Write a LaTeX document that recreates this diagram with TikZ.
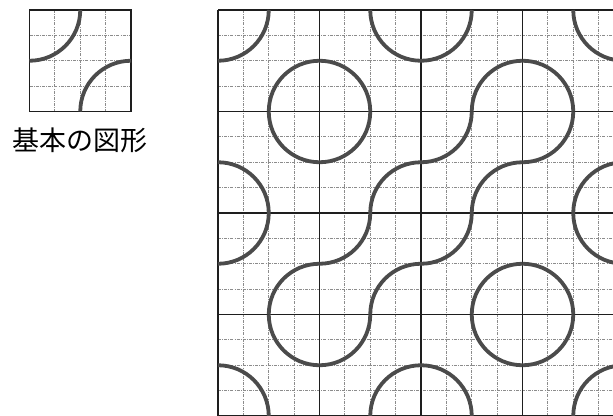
\documentclass[tikz,border=0pt]{standalone}
\usepackage{fontspec}
\newfontfamily\cjk{Noto Sans CJK JP}
\definecolor{arcgray}{HTML}{4B4B4B}
\definecolor{gridgray}{HTML}{8C8C8C}
\definecolor{boldline}{HTML}{1E1E1E}
\tikzset{
  subline/.style={draw=gridgray, line width=0.9pt, dash pattern=on 3pt off 1.2pt on 0.8pt off 1.2pt},
  mainline/.style={draw=boldline, line width=1.6pt},
  curve/.style={draw=arcgray, line width=3.8pt},
}
\begin{document}
\begin{tikzpicture}[x=1pt,y=-1pt]
\useasboundingbox (0,0) rectangle (613,415);
\def\T{101.5}
\def\H{50.75}
\def\Q{25.375}
% ---------- basic tile ----------
\foreach \k in {1,2,3} {
  \draw[subline] (29.5+\k*\Q,10) -- (29.5+\k*\Q,111.5);
  \draw[subline] (29.5,10+\k*\Q) -- (131,10+\k*\Q);
}
\draw[mainline] (29.5,10) rectangle (131,111.5);
\draw[curve] (29.5+\H,10) arc[start angle=0,end angle=-90,radius=\H pt];
\draw[curve] (131,10+\H) arc[start angle=90,end angle=180,radius=\H pt];
\node[font=\cjk\fontsize{27}{27}\selectfont, inner sep=0pt] (label) at (80,140) {基本の図形};
% ---------- tiled pattern ----------
\begin{scope}
\clip (200,0) rectangle (613,415);
\foreach \k in {0,...,16} {
  \draw[subline] (218+\k*\Q,10) -- (218+\k*\Q,416);
  \draw[subline] (218,10+\k*\Q) -- (624,10+\k*\Q);
}
\foreach \k in {0,...,4} {
  \draw[mainline] (218+\k*\T,10) -- (218+\k*\T,416);
  \draw[mainline] (218,10+\k*\T) -- (624,10+\k*\T);
}
\foreach \row/\types in {0/{0,1,0,1},1/{1,0,0,0},2/{0,0,0,1},3/{1,0,1,0}} {
  \foreach \t [count=\c from 0] in \types {
    \pgfmathsetmacro\X{218+\c*\T}
    \pgfmathsetmacro\Y{10+\row*\T}
    \ifnum\t=0
      \draw[curve] (\X+\H,\Y) arc[start angle=0,end angle=-90,radius=\H pt];
      \draw[curve] (\X+\T,\Y+\H) arc[start angle=90,end angle=180,radius=\H pt];
    \else
      \draw[curve] (\X+\H,\Y) arc[start angle=180,end angle=270,radius=\H pt];
      \draw[curve] (\X,\Y+\H) arc[start angle=90,end angle=0,radius=\H pt];
    \fi
  }
}
\end{scope}
\end{tikzpicture}
\end{document}
